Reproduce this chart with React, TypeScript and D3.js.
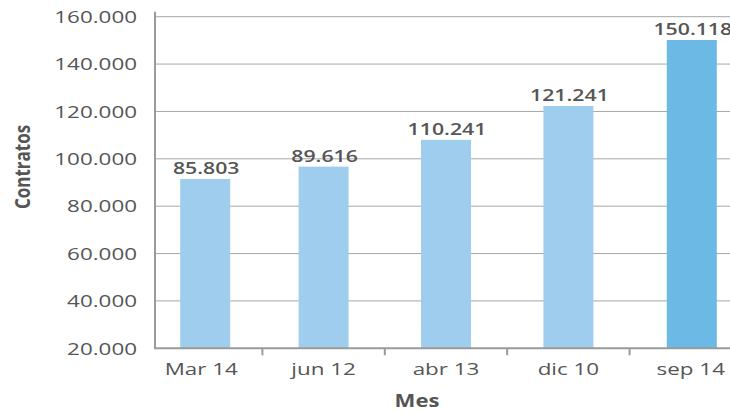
import React from "react";
import * as d3 from "d3";

const months = ["Mar 14", "jun 12", "abr 13", "dic 10", "sep 14"];
// bar heights as drawn in the picture
const barValues = [91500, 96700, 108000, 122300, 150150];
// value labels printed above the bars
const valueLabels = ["85.803", "89.616", "110.241", "121.241", "150.118"];
const yTickValues = [20000, 40000, 60000, 80000, 100000, 120000, 140000, 160000];
const highlightMonth = "sep 14";

const fmt = d3
  .formatLocale({ decimal: ",", thousands: ".", grouping: [3], currency: ["", ""] })
  .format(",");

const App: React.FC = () => {
  const width = 730;
  const height = 413;
  const axisX = 155;
  const baseY = 348.3;
  const topY = 16.7;
  const stretch = 1.4;

  const x = d3.scaleBand<string>().domain(months).range([140, 752]).padding(0);
  const y = d3.scaleLinear().domain([20000, 160000]).range([baseY, topY]);
  const barW = 50;
  // small nudge so bars sit where the picture has them
  const nudge = [4, 0, 0, 0, 1];

  const textColor = "#555";
  const font = "'Open Sans', sans-serif";

  return (
    <svg
      width={width}
      height={height}
      style={{ position: "absolute", left: 0, top: 0, background: "#fff" }}
    >
      {/* gridlines + y labels */}
      {yTickValues.map((t) => (
        <g key={t}>
          {t > 20000 && (
            <line x1={axisX} x2={width} y1={y(t)} y2={y(t)} stroke="#a6a6a6" strokeWidth={1} />
          )}
          <text
            transform={`translate(137,${y(t) + 6.2}) scale(${stretch},1)`}
            textAnchor="end"
            fontFamily={font}
            fontSize={16}
            fill={textColor}
          >
            {fmt(t)}
          </text>
        </g>
      ))}

      {/* bars */}
      {months.map((m, i) => {
        const cx = x(m)! + x.bandwidth() / 2 + nudge[i];
        return (
          <rect
            key={m}
            x={cx - barW / 2}
            y={y(barValues[i])}
            width={barW}
            height={baseY - y(barValues[i])}
            fill={m === highlightMonth ? "#6db9e6" : "#9fcdee"}
          />
        );
      })}

      {/* value labels */}
      {months.map((m, i) => {
        const cx = x(m)! + x.bandwidth() / 2 + nudge[i] + 1;
        return (
          <text
            key={m}
            transform={`translate(${cx},${y(barValues[i]) - 5}) scale(${stretch * 0.95},1)`}
            textAnchor="middle"
            fontFamily={font}
            fontWeight={600}
            fontSize={16}
            fill={textColor}
          >
            {valueLabels[i]}
          </text>
        );
      })}

      {/* axes */}
      <line x1={axisX} x2={axisX} y1={11.7} y2={baseY + 1} stroke="#9a9a9a" strokeWidth={2} />
      <line x1={axisX} x2={width} y1={baseY} y2={baseY} stroke="#9a9a9a" strokeWidth={2} />
      {months.slice(1).map((m) => (
        <line
          key={m}
          x1={x(m)!}
          x2={x(m)!}
          y1={baseY}
          y2={baseY + 7}
          stroke="#9a9a9a"
          strokeWidth={2}
        />
      ))}

      {/* x labels */}
      {months.map((m) => (
        <text
          key={m}
          transform={`translate(${x(m)! + x.bandwidth() / 2},375) scale(${stretch},1)`}
          textAnchor="middle"
          fontFamily={font}
          fontSize={16}
          fill={textColor}
        >
          {m}
        </text>
      ))}

      {/* axis titles */}
      <text
        transform={`translate(417,407) scale(1.3,1)`}
        textAnchor="middle"
        fontFamily={font}
        fontWeight="bold"
        fontSize={17}
        fill={textColor}
      >
        Mes
      </text>
      <text
        transform={`translate(30,167) scale(1.25,1) rotate(-90)`}
        textAnchor="middle"
        fontFamily={font}
        fontWeight="bold"
        fontSize={17}
        fill={textColor}
      >
        Contratos
      </text>
    </svg>
  );
};

export default App;
